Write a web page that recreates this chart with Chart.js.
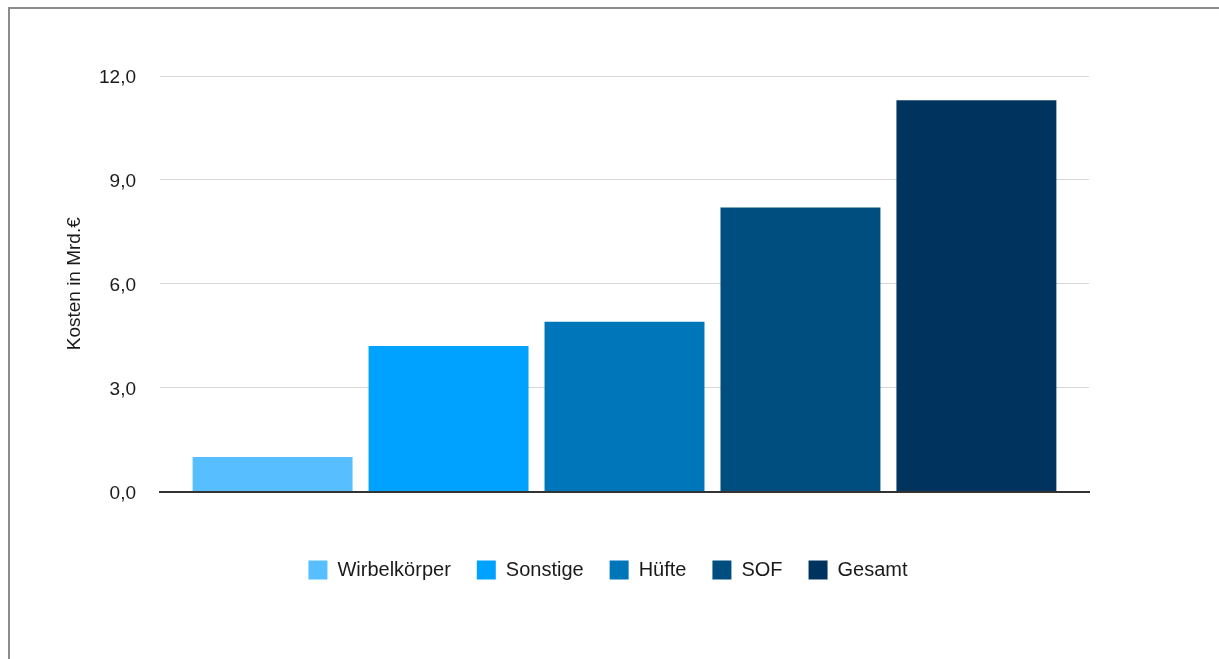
<!DOCTYPE html>
<html lang="de">
<head>
<meta charset="utf-8">
<title>Kosten in Mrd.€</title>
<script src="https://cdn.jsdelivr.net/npm/chart.js@4"></script>
<style>
    html, body { margin: 0; padding: 0; background: #fff; overflow: hidden; }
    #frame {
        position: absolute; left: 8px; top: 7px;
        width: 2000px; height: 2000px;
        border: 2px solid #8c8c8c;
    }
    #costChart { position: absolute; left: 0; top: 0; }
</style>
</head>
<body>
<div id="frame"></div>
<canvas id="costChart" width="1219" height="659"></canvas>
<script>
// --- data ---
const categories = ['Wirbelkörper', 'Sonstige', 'Hüfte', 'SOF', 'Gesamt'];
const costs = [1.0, 4.2, 4.9, 8.2, 11.3];
const yTicks = [0, 3, 6, 9, 12];

const barColors = ['#57BFFF', '#00A2FF', '#0076BA', '#004E80', '#00345F'];
const fontFamily = '"Helvetica Neue", Helvetica, "Liberation Sans", Arial, sans-serif';
const textColor = '#1a1a1a';

document.addEventListener('DOMContentLoaded', function() {
    const canvasElement = document.getElementById('costChart');

    // one (unnamed) category, one dataset per bar so every bar gets its own legend entry
    const datasets = categories.map(function(name, i) {
        return {
            label: name,
            data: [costs[i]],
            backgroundColor: barColors[i],
            borderWidth: 0,
            categoryPercentage: 0.947,
            barPercentage: 0.909
        };
    });

    new Chart(canvasElement, {
        type: 'bar',
        data: {
            labels: [''],
            datasets: datasets
        },
        options: {
            responsive: false,
            animation: false,
            layout: {
                padding: { left: 0, right: 3, top: 76, bottom: 69 }
            },
            scales: {
                x: {
                    ticks: { display: false },
                    grid: { display: false, drawTicks: false },
                    border: { display: true, color: '#333', width: 2 },
                    afterFit: function(scale) { scale.height = 42.5; }
                },
                y: {
                    min: 0,
                    max: 12,
                    afterBuildTicks: function(scale) {
                        scale.ticks = yTicks.map(v => ({ value: v }));
                    },
                    ticks: {
                        padding: 24,
                        labelOffset: 2,
                        color: textColor,
                        font: { family: fontFamily, size: 19 },
                        callback: v => v.toFixed(1).replace('.', ',')
                    },
                    grid: { color: '#d9d9d9', lineWidth: 1, drawTicks: false },
                    border: { display: false },
                    title: {
                        display: true,
                        text: 'Kosten in Mrd.€',
                        color: textColor,
                        font: { family: fontFamily, size: 19 },
                        padding: { top: 63.6, bottom: 0 }
                    },
                    afterFit: function(scale) { scale.width = 160; }
                },
                // empty right-hand axis: only reserves room so the legend centres like the original
                spacer: {
                    type: 'linear',
                    position: 'right',
                    ticks: { display: false },
                    grid: { display: false, drawTicks: false },
                    border: { display: false },
                    afterFit: function(scale) { scale.width = 127; }
                }
            },
            plugins: {
                legend: {
                    position: 'bottom',
                    labels: {
                        boxWidth: 19,
                        boxHeight: 19,
                        padding: 26,
                        color: textColor,
                        font: { family: fontFamily, size: 20 }
                    }
                },
                tooltip: { enabled: false }
            }
        }
    });
});
</script>
</body>
</html>
